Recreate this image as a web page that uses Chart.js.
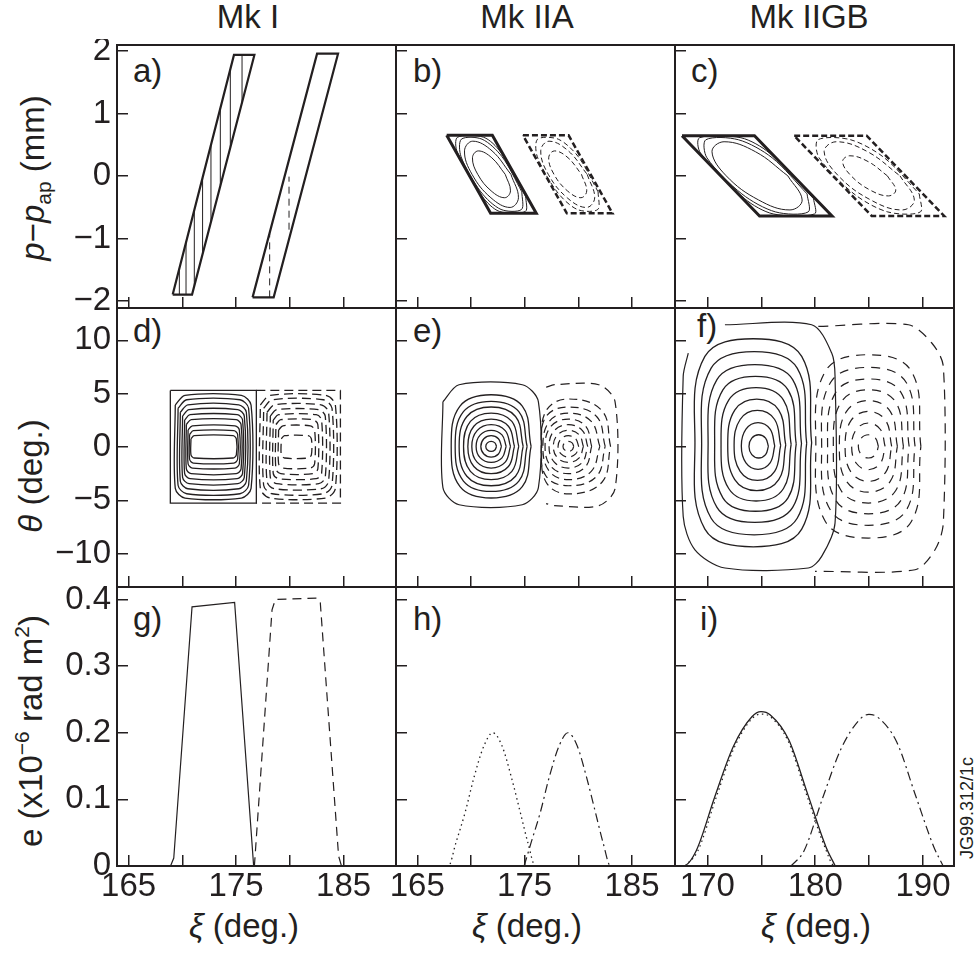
<!DOCTYPE html>
<html><head><meta charset="utf-8">
<script src="https://cdn.jsdelivr.net/npm/chart.js@4.4.1/dist/chart.umd.min.js"></script>
<style>
html,body{margin:0;padding:0;background:#fff;}
body{width:979px;height:954px;position:relative;overflow:hidden;font-family:"Liberation Sans",Arial,sans-serif;color:#231f20;}
canvas{position:absolute;}
.t{position:absolute;font-size:33px;line-height:33px;white-space:nowrap;}
.c{transform:translateX(-50%);}
.r{transform:translate(-50%,-50%) rotate(-90deg);}
sub{font-size:21px;vertical-align:-7px;line-height:0;}
sup{font-size:21px;vertical-align:13px;line-height:0;}
</style></head><body>
<div class="t c" style="left:248px;top:0px">Mk I</div>
<div class="t c" style="left:527px;top:0px">Mk IIA</div>
<div class="t c" style="left:809px;top:0px">Mk IIGB</div>
<div class="t r" style="left:32px;top:178px"><i>p</i>−<i>p</i><sub>ap</sub> (mm)</div>
<div class="t r" style="left:30px;top:476px"><i>θ</i> (deg.)</div>
<div class="t r" style="left:30px;top:731px">e (x10<sup>−6</sup> rad m<sup>2</sup>)</div>
<div class="t c" style="left:244px;top:909px"><i>ξ</i> (deg.)</div>
<div class="t c" style="left:527px;top:909px"><i>ξ</i> (deg.)</div>
<div class="t c" style="left:816px;top:909px"><i>ξ</i> (deg.)</div>
<div class="t" style="left:133px;top:54px">a)</div>
<div class="t" style="left:413px;top:54px">b)</div>
<div class="t" style="left:691px;top:54px">c)</div>
<div class="t" style="left:133px;top:314px">d)</div>
<div class="t" style="left:413px;top:314px">e)</div>
<div class="t" style="left:697px;top:309px">f)</div>
<div class="t" style="left:133px;top:602px">g)</div>
<div class="t" style="left:413px;top:602px">h)</div>
<div class="t" style="left:700px;top:602px">i)</div>
<div class="t r" style="left:967px;top:808px;font-size:18px;line-height:18px">JG99.312/1c</div>
<script>
// ---------- axes ----------
const XI_RANGE_MK1 = [163.92, 189.87];
const XI_RANGE_MK2A = [163.02, 189.0];
const XI_RANGE_MK2GB = [167.0, 192.87];
const XI_TICKS_MK1 = [165, 170, 175, 180, 185];
const XI_TICKS_MK2A = [165, 170, 175, 180, 185];
const XI_TICKS_MK2GB = [170, 175, 180, 185, 190];
const XI_LABELS_MK1 = [165, 175, 185];
const XI_LABELS_MK2A = [165, 175, 185];
const XI_LABELS_MK2GB = [170, 180, 190];
const P_RANGE = [-2.115, 2.099];
const P_TICKS = [-2, -1, 0, 1, 2];
const THETA_RANGE = [-13.12, 13.03];
const THETA_TICKS = [-10, -5, 0, 5, 10];
const E_RANGE = [0, 0.4187];
const E_TICKS = [0, 0.1, 0.2, 0.3, 0.4];

// ---------- a) Mk I phase space ----------
const A_LEFT_OUTLINE = [[169.1,-1.9],[170.9,-1.9],[176.7,1.94],[174.8,1.94]];
const A_LEFT_HATCH = [[169.72,-1.9,-1.48],[170.34,-1.9,-1.06],[171.11,-1.76,-0.55],[171.88,-1.25,-0.03],[172.66,-0.73,0.5],[173.53,-0.15,1.08],[174.46,0.46,1.71],[175.55,1.18,1.94]];
const A_RIGHT_OUTLINE = [[176.53,-1.945],[178.49,-1.945],[184.48,1.96],[182.53,1.96]];
const A_RIGHT_HATCH = [[178.12,-1.945,-0.92],[179.92,-0.86,-0.01]];

// ---------- b) Mk IIA phase space ----------
const B_SOLID_OUTER = [[167.74,0.652],[171.99,0.652],[176.08,-0.598],[171.83,-0.598]];
const B_SOLID_RING1 = [[175.10,-0.329],[175.07,-0.567],[172.64,-0.567],[171.06,-0.329],[168.72,0.383],[168.75,0.621],[171.18,0.621],[172.76,0.383]];
const B_SOLID_RING2 = [[174.74,-0.254],[174.71,-0.536],[172.80,-0.536],[170.92,-0.254],[169.08,0.308],[169.11,0.590],[171.03,0.590],[172.90,0.308]];
const B_SOLID_ELL1 = [[173.72,0.027],[174.42,-0.349],[173.65,-0.504],[171.86,-0.349],[170.10,0.027],[169.40,0.403],[170.17,0.558],[171.96,0.403]];
const B_SOLID_ELL2 = [[173.19,0.027],[173.68,-0.238],[173.14,-0.348],[171.88,-0.238],[170.63,0.027],[170.14,0.292],[170.68,0.402],[171.94,0.292]];
const B_DASH_OUTER = [[174.84,0.652],[179.09,0.652],[183.18,-0.598],[178.93,-0.598]];
const B_DASH_RING = [[181.84,-0.254],[181.81,-0.536],[179.90,-0.536],[178.02,-0.254],[176.18,0.308],[176.21,0.590],[178.13,0.590],[180.00,0.308]];
const B_DASH_ELL1 = [[180.82,0.027],[181.52,-0.349],[180.75,-0.504],[178.96,-0.349],[177.20,0.027],[176.50,0.403],[177.27,0.558],[179.06,0.403]];
const B_DASH_ELL2 = [[180.29,0.027],[180.78,-0.238],[180.24,-0.348],[178.98,-0.238],[177.73,0.027],[177.24,0.292],[177.78,0.402],[179.04,0.292]];

// ---------- c) Mk IIGB phase space ----------
const C_SOLID_OUTER = [[167.65,0.645],[174.37,0.645],[181.56,-0.64],[174.84,-0.64]];
const C_SOLID_RING1 = [[179.85,-0.364],[179.94,-0.608],[176.11,-0.608],[173.46,-0.364],[169.36,0.369],[169.28,0.613],[173.11,0.613],[175.75,0.369]];
const C_SOLID_RING2 = [[179.25,-0.287],[179.35,-0.576],[176.33,-0.576],[173.20,-0.287],[169.96,0.292],[169.86,0.581],[172.88,0.581],[176.01,0.292]];
const C_SOLID_ELL = [[177.46,0.003],[178.79,-0.384],[177.66,-0.544],[174.75,-0.384],[171.75,0.003],[170.43,0.389],[171.55,0.549],[174.46,0.389]];
const C_DASH_OUTER = [[178.05,0.645],[184.77,0.645],[191.96,-0.64],[185.24,-0.64]];
const C_DASH_RING = [[189.65,-0.287],[189.75,-0.576],[186.73,-0.576],[183.60,-0.287],[180.36,0.292],[180.26,0.581],[183.28,0.581],[186.41,0.292]];
const C_DASH_ELL1 = [[187.86,0.003],[189.19,-0.384],[188.06,-0.544],[185.15,-0.384],[182.15,0.003],[180.83,0.389],[181.95,0.549],[184.86,0.389]];
const C_DASH_ELL2 = [[186.69,0.003],[187.47,-0.225],[186.80,-0.319],[185.09,-0.225],[183.33,0.003],[182.54,0.230],[183.21,0.324],[184.92,0.230]];

// ---------- d) Mk I real space ----------
const D_SOLID_OUTER = [[168.88,5.3],[176.88,5.3],[176.88,-5.25],[168.88,-5.25]];
const D_SOLID_RINGS = [
  [[169.34,3.94],[170.24,4.84],[175.49,4.84],[176.39,3.94],[176.39,-3.88],[175.49,-4.78],[170.24,-4.78],[169.34,-3.88]],
  [[169.6,3.63],[170.4,4.43],[175.36,4.43],[176.16,3.63],[176.16,-3.58],[175.36,-4.38],[170.4,-4.38],[169.6,-3.58]],
  [[169.81,3.26],[170.51,3.96],[175.25,3.96],[175.95,3.26],[175.95,-3.21],[175.25,-3.91],[170.51,-3.91],[169.81,-3.21]],
  [[170.02,2.9],[170.62,3.5],[175.16,3.5],[175.76,2.9],[175.76,-2.84],[175.16,-3.44],[170.62,-3.44],[170.02,-2.84]],
  [[170.21,2.53],[170.71,3.03],[175.1,3.03],[175.6,2.53],[175.6,-2.47],[175.1,-2.97],[170.71,-2.97],[170.21,-2.47]],
  [[170.37,2.11],[170.82,2.56],[175.01,2.56],[175.46,2.11],[175.46,-2.05],[175.01,-2.5],[170.82,-2.5],[170.37,-2.05]],
  [[170.53,1.59],[170.93,1.99],[174.9,1.99],[175.3,1.59],[175.3,-1.57],[174.9,-1.97],[170.93,-1.97],[170.53,-1.57]],
  [[170.67,1.18],[171.02,1.53],[174.79,1.53],[175.14,1.18],[175.14,-1.15],[174.79,-1.5],[171.02,-1.5],[170.67,-1.15]],
  [[170.8,0.76],[171.1,1.06],[174.72,1.06],[175.02,0.76],[175.02,-0.73],[174.72,-1.03],[171.1,-1.03],[170.8,-0.73]]
];
const D_DASH_OUTER = [[176.88,5.3],[184.7,5.3],[184.7,-5.25],[176.88,-5.25]];
const D_DASH_RINGS = [
  [[177.25,3.94],[178.15,4.84],[183.33,4.84],[184.23,3.94],[184.23,-3.88],[183.33,-4.78],[178.15,-4.78],[177.25,-3.88]],
  [[177.56,3.63],[178.36,4.43],[183.12,4.43],[183.92,3.63],[183.92,-3.58],[183.12,-4.38],[178.36,-4.38],[177.56,-3.58]],
  [[177.87,3.26],[178.57,3.96],[182.9,3.96],[183.6,3.26],[183.6,-3.21],[182.9,-3.91],[178.57,-3.91],[177.87,-3.21]],
  [[178.18,2.9],[178.78,3.5],[182.69,3.5],[183.29,2.9],[183.29,-2.84],[182.69,-3.44],[178.78,-3.44],[178.18,-2.84]],
  [[178.45,2.53],[178.95,3.03],[182.45,3.03],[182.95,2.53],[182.95,-2.47],[182.45,-2.97],[178.95,-2.97],[178.45,-2.47]],
  [[178.7,2.11],[179.15,2.56],[182.15,2.56],[182.6,2.11],[182.6,-2.05],[182.15,-2.5],[179.15,-2.5],[178.7,-2.05]],
  [[178.95,1.59],[179.35,1.99],[181.9,1.99],[182.3,1.59],[182.3,-1.57],[181.9,-1.97],[179.35,-1.97],[178.95,-1.57]],
  [[179.2,0.76],[179.5,1.06],[181.7,1.06],[182.0,0.76],[182.0,-0.73],[181.7,-1.03],[179.5,-1.03],[179.2,-0.73]]
];

// ---------- e) Mk IIA real space ----------
const E_SOLID_OUTER = [[167.39,4.24],[168.89,5.84],[174.78,5.84],[176.28,4.24],[176.28,-3.81],[174.78,-5.41],[168.89,-5.41],[167.39,-3.81]];
const E_SOLID_RINGS = [
  [[172.38,0.06],[172.23,0.39],[171.88,0.53],[171.53,0.39],[171.38,0.06],[171.53,-0.27],[171.88,-0.41],[172.23,-0.27]],
  [[172.84,0.06],[172.56,0.77],[171.88,1.06],[171.2,0.77],[170.92,0.06],[171.2,-0.65],[171.88,-0.94],[172.56,-0.65]],
  [[173.28,0.06],[172.89,1.14],[171.88,1.56],[170.87,1.14],[170.48,0.06],[170.87,-1.02],[171.88,-1.44],[172.89,-1.02]],
  [[173.68,0.06],[173.19,1.54],[171.88,2.09],[170.57,1.54],[170.08,0.06],[170.57,-1.42],[171.88,-1.97],[173.19,-1.42]],
  [[174.05,0.06],[173.49,1.95],[171.88,2.62],[170.27,1.95],[169.71,0.06],[170.27,-1.83],[171.88,-2.5],[173.49,-1.83]],
  [[174.45,0.06],[173.81,2.4],[171.88,3.18],[169.95,2.4],[169.31,0.06],[169.95,-2.28],[171.88,-3.06],[173.81,-2.28]],
  [[174.86,0.06],[174.15,2.86],[171.88,3.75],[169.62,2.86],[168.9,0.06],[169.62,-2.74],[171.88,-3.63],[174.15,-2.74]],
  [[175.23,0.06],[174.46,3.31],[171.88,4.28],[169.3,3.31],[168.53,0.06],[169.3,-3.19],[171.88,-4.16],[174.46,-3.19]],
  [[175.6,0.06],[174.78,3.84],[171.88,4.9],[168.98,3.84],[168.16,0.06],[168.98,-3.72],[171.88,-4.78],[174.78,-3.72]]
];
const E_DASH_OUTER = [[177.0,5.6],[177.78,5.84],[181.9,5.84],[183.42,4.24],[183.42,-3.9],[181.9,-5.5],[177.78,-5.5],[177.0,-5.3]];
const E_DASH_RINGS = [
  [[179.57,0.06],[179.42,0.39],[179.07,0.53],[178.72,0.39],[178.57,0.06],[178.72,-0.27],[179.07,-0.41],[179.42,-0.27]],
  [[180.03,0.06],[179.75,0.77],[179.07,1.06],[178.39,0.77],[178.11,0.06],[178.39,-0.65],[179.07,-0.94],[179.75,-0.65]],
  [[180.47,0.06],[180.08,1.14],[179.07,1.56],[178.06,1.14],[177.67,0.06],[178.06,-1.02],[179.07,-1.44],[180.08,-1.02]],
  [[180.87,0.06],[180.38,1.54],[179.07,2.09],[177.76,1.54],[177.27,0.06],[177.76,-1.42],[179.07,-1.97],[180.38,-1.42]],
  [[181.24,0.06],[180.68,1.95],[179.07,2.62],[177.46,1.95],[176.9,0.06],[177.46,-1.83],[179.07,-2.5],[180.68,-1.83]],
  [[182.0,0.06],[181.2,2.4],[179.07,3.18],[177.3,2.4],[176.7,0.06],[177.3,-2.28],[179.07,-3.06],[181.2,-2.28]],
  [[182.5,0.06],[181.7,2.86],[179.07,3.75],[177.0,2.86],[176.55,0.06],[177.0,-2.74],[179.07,-3.63],[181.7,-2.74]],
  [[183.0,0.06],[182.2,3.4],[179.07,4.5],[177.0,3.4],[176.6,0.06],[177.0,-3.3],[179.07,-4.4],[182.2,-3.3]]
];

// ---------- f) Mk IIGB real space ----------
const F_SOLID_OUTER = [[171.63,11.46],[179.67,11.46],[181.53,8.81],[181.84,6.62],[181.84,-7.12],[180.6,-10.25],[179.36,-11.34],[171.63,-11.34],[168.85,-9.63],[167.76,-6.5],[167.76,6.62],[168.23,8.81]];
const F_SOLID_RINGS = [
  [[175.66,0.06],[175.40,0.83],[174.76,1.15],[174.12,0.83],[173.86,0.06],[174.12,-0.71],[174.76,-1.03],[175.40,-0.71]],
  [[176.25,0.1],[175.82,1.68],[174.70,2.29],[173.58,1.68],[173.15,0.1],[173.58,-1.48],[174.70,-2.09],[175.82,-1.48]],
  [[176.80,0.15],[176.24,2.58],[174.64,3.43],[173.04,2.58],[172.48,0.15],[173.04,-2.28],[174.64,-3.13],[176.24,-2.28]],
  [[177.27,0.2],[176.62,3.46],[174.58,4.49],[172.54,3.46],[171.89,0.2],[172.54,-3.06],[174.58,-4.09],[176.62,-3.06]],
  [[177.77,0.25],[177.06,4.39],[174.52,5.56],[171.98,4.39],[171.27,0.25],[171.98,-3.89],[174.52,-5.06],[177.06,-3.89]],
  [[178.24,0.3],[177.48,5.36],[174.46,6.62],[171.44,5.36],[170.68,0.3],[171.44,-4.76],[174.46,-6.02],[177.48,-4.76]],
  [[178.73,0.33],[177.91,6.32],[174.40,7.73],[170.89,6.32],[170.07,0.33],[170.89,-5.66],[174.40,-7.07],[177.91,-5.66]],
  [[179.21,0.36],[178.33,7.40],[174.34,8.95],[170.35,7.40],[169.47,0.36],[170.35,-6.68],[174.34,-8.23],[178.33,-6.68]],
  [[179.67,0.4],[178.75,8.49],[174.26,10.15],[169.77,8.49],[168.85,0.4],[169.77,-7.69],[174.26,-9.35],[178.75,-7.69]]
];
const F_DASH_OUTER = [[180.29,11.3],[188.64,11.46],[190.81,9.75],[191.88,7.55],[191.88,-7.12],[191.11,-9.63],[189.26,-11.5],[179.98,-11.66]];
const F_DASH_RINGS = [
  [[185.86,0.06],[185.59,0.83],[184.93,1.15],[184.27,0.83],[184.0,0.06],[184.27,-0.71],[184.93,-1.03],[185.59,-0.71]],
  [[186.48,0.06],[186.05,1.64],[184.93,2.25],[183.81,1.64],[183.38,0.06],[183.81,-1.52],[184.93,-2.13],[186.05,-1.52]],
  [[187.09,0.06],[186.53,2.49],[184.93,3.34],[183.33,2.49],[182.77,0.06],[183.33,-2.37],[184.93,-3.22],[186.53,-2.37]],
  [[187.62,0.06],[186.97,3.32],[184.93,4.35],[182.89,3.32],[182.24,0.06],[182.89,-3.2],[184.93,-4.23],[186.97,-3.2]],
  [[188.18,0.06],[187.47,4.2],[184.93,5.37],[182.4,4.2],[181.68,0.06],[182.4,-4.08],[184.93,-5.25],[187.47,-4.08]],
  [[188.71,0.06],[187.95,5.12],[184.93,6.38],[181.91,5.12],[181.15,0.06],[181.91,-5.0],[184.93,-6.26],[187.95,-5.0]],
  [[189.26,0.06],[188.44,6.05],[184.93,7.46],[181.42,6.05],[180.6,0.06],[181.42,-5.93],[184.93,-7.34],[188.44,-5.93]],
  [[189.8,0.06],[188.92,7.1],[184.93,8.65],[180.94,7.1],[180.06,0.06],[180.94,-6.98],[184.93,-8.53],[188.92,-6.98]]
];

// ---------- g, h, i) emittance vs xi ----------
const G_SOLID = [[165,0],[168.9,0],[169.2,0.012],[170.9,0.389],[174.86,0.3955],[176.63,0],[176.9,0]];
const G_DASHED = [[169.7,0],[176.7,0],[178.34,0.3845],[178.65,0.4],[182.53,0.402],[182.83,0.395],[184.53,0.015],[184.8,0],[186.2,0]];
const H_DOTTED = [[163.5,0],[167.9,0],[168.6,0.035],[169.45,0.08],[170.3,0.134],[171.2,0.18],[172.03,0.2],[172.9,0.18],[173.75,0.134],[174.6,0.08],[175.3,0.035],[176.0,0],[188.5,0]];
const H_DASHDOT = [[174.95,0],[175.6,0.035],[176.45,0.08],[177.3,0.134],[178.2,0.18],[179.03,0.2],[179.9,0.18],[180.75,0.134],[181.6,0.08],[182.3,0.035],[183.0,0],[188.5,0]];
const I_SOLID = [[167.0,0],[167.76,0],[168.97,0.023],[170.69,0.104],[172.4,0.179],[174.13,0.224],[174.98,0.2316],[175.84,0.2266],[177.56,0.189],[179.28,0.109],[180.99,0.029],[181.86,0]];
const I_DOTTED = [[167.9,0],[169.1,0.022],[170.8,0.102],[172.45,0.176],[174.13,0.221],[174.98,0.228],[175.84,0.224],[177.5,0.187],[179.2,0.107],[180.9,0.028],[181.8,0],[192.8,0]];
const I_DASHDOT = [[177.76,0],[178.97,0.023],[180.69,0.102],[182.4,0.176],[184.13,0.22],[184.98,0.2276],[185.84,0.2227],[187.56,0.186],[189.28,0.107],[190.99,0.029],[191.86,0]];

// ---------- drawing ----------
const INK = '#231f20';
const FONT = "'Liberation Sans', Arial, sans-serif";
const COL_EDGES = [117, 396, 675, 954];
const ROW_EDGES = [45, 308, 587, 866];

function seg(points, o) {
  return Object.assign({
    data: points.map(p => ({x: p[0], y: p[1]})),
    showLine: true, pointRadius: 0, pointHoverRadius: 0,
    borderColor: INK, borderWidth: 1, tension: 0, fill: false
  }, o || {});
}
function ring(points, o) { return seg(points.concat([points[0]]), o); }
function vlines(list, o) { return list.map(v => seg([[v[0], v[1]], [v[0], v[2]]], o)); }

const BOLD = {borderWidth: 2.2};
const THIN = {borderWidth: 1};
const fmtSigned = v => (v < 0 ? '\u2212' + Math.abs(v) : String(v));
const fmtE = v => (v === 0 ? '0' : v.toFixed(1));

const XSPEC = [
  {range: XI_RANGE_MK1, ticks: XI_TICKS_MK1, labels: XI_LABELS_MK1},
  {range: XI_RANGE_MK2A, ticks: XI_TICKS_MK2A, labels: XI_LABELS_MK2A},
  {range: XI_RANGE_MK2GB, ticks: XI_TICKS_MK2GB, labels: XI_LABELS_MK2GB}
];
const YSPEC = [
  {range: P_RANGE, ticks: P_TICKS, fmt: fmtSigned},
  {range: THETA_RANGE, ticks: THETA_TICKS, fmt: fmtSigned},
  {range: E_RANGE, ticks: E_TICKS, fmt: fmtE}
];

const framePlugin = {
  id: 'frame',
  afterDraw(chart) {
    const {ctx, chartArea: a} = chart;
    ctx.save();
    ctx.strokeStyle = INK; ctx.lineWidth = 2;
    ctx.strokeRect(a.left, a.top, a.right - a.left, a.bottom - a.top);
    ctx.restore();
  }
};

function zeroPad(s) { s.paddingLeft = 0; s.paddingRight = 0; s.paddingTop = 0; s.paddingBottom = 0; }

function makeChart(col, row, datasets) {
  const L = COL_EDGES[col], R = COL_EDGES[col + 1], T = ROW_EDGES[row], B = ROW_EDGES[row + 1];
  const padL = col === 0 ? 0 : 6, yW = col === 0 ? L : 0;
  const xH = row === 2 ? 60 : 0, padB = row === 2 ? 0 : 6;
  const left = L - padL - yW, top = T - 6;
  const w = R + 6 - left, h = B + xH + padB - top;
  const cv = document.createElement('canvas');
  cv.width = w; cv.height = h;
  cv.style.left = left + 'px'; cv.style.top = top + 'px';
  cv.style.width = w + 'px'; cv.style.height = h + 'px';
  document.body.appendChild(cv);
  const xs = XSPEC[col], ys = YSPEC[row];
  const gridOpt = {display: true, drawOnChartArea: false, drawTicks: true, tickLength: -11, color: INK, lineWidth: 1.5};
  return new Chart(cv, {
    type: 'scatter',
    data: {datasets},
    plugins: [framePlugin],
    options: {
      responsive: false, animation: false, devicePixelRatio: 1, events: [],
      layout: {padding: {left: padL, top: 6, right: 6, bottom: padB}},
      plugins: {legend: {display: false}, tooltip: {enabled: false}},
      scales: {
        x: {
          type: 'linear', position: 'bottom', min: xs.range[0], max: xs.range[1],
          afterBuildTicks: s => { s.ticks = xs.ticks.map(v => ({value: v})); },
          afterFit: s => { s.height = xH; zeroPad(s); },
          border: {display: false}, grid: gridOpt,
          ticks: {display: row === 2, padding: 12, color: INK, font: {family: FONT, size: 33},
                  maxRotation: 0, minRotation: 0, autoSkip: false,
                  callback: v => (xs.labels.includes(v) ? String(v) : '')}
        },
        y: {
          type: 'linear', position: 'left', min: ys.range[0], max: ys.range[1],
          afterBuildTicks: s => { s.ticks = ys.ticks.map(v => ({value: v})); },
          afterFit: s => { s.width = yW; zeroPad(s); },
          border: {display: false}, grid: gridOpt,
          ticks: {display: col === 0, padding: 17, color: INK, font: {family: FONT, size: 33},
                  autoSkip: false, callback: v => ys.fmt(v)}
        }
      }
    }
  });
}

const DASH_B = {borderWidth: 1, borderDash: [5, 3]};

// a)
makeChart(0, 0, [
  ring(A_LEFT_OUTLINE, BOLD), ...vlines(A_LEFT_HATCH, THIN),
  ring(A_RIGHT_OUTLINE, BOLD), ...vlines(A_RIGHT_HATCH, {borderWidth: 1, borderDash: [7, 5]})
]);
// b)
makeChart(1, 0, [
  ring(B_SOLID_OUTER, {borderWidth: 3}),
  ring(B_SOLID_RING1, {borderWidth: 1, tension: 0.3}),
  ring(B_SOLID_RING2, {borderWidth: 1, tension: 0.3}),
  ring(B_SOLID_ELL1, {borderWidth: 1, tension: 0.4}),
  ring(B_SOLID_ELL2, {borderWidth: 1, tension: 0.4}),
  ring(B_DASH_OUTER, {borderWidth: 2.5, borderDash: [6, 3]}),
  ring(B_DASH_RING, Object.assign({tension: 0.3}, DASH_B)),
  ring(B_DASH_ELL1, Object.assign({tension: 0.4}, DASH_B)),
  ring(B_DASH_ELL2, Object.assign({tension: 0.4}, DASH_B))
]);
// c)
makeChart(2, 0, [
  ring(C_SOLID_OUTER, {borderWidth: 3}),
  ring(C_SOLID_RING1, {borderWidth: 1, tension: 0.3}),
  ring(C_SOLID_RING2, {borderWidth: 1, tension: 0.3}),
  ring(C_SOLID_ELL, {borderWidth: 1, tension: 0.4}),
  ring(C_DASH_OUTER, {borderWidth: 2.5, borderDash: [6, 3]}),
  ring(C_DASH_RING, Object.assign({tension: 0.3}, DASH_B)),
  ring(C_DASH_ELL1, Object.assign({tension: 0.4}, DASH_B)),
  ring(C_DASH_ELL2, Object.assign({tension: 0.4}, DASH_B))
]);
// d)
makeChart(0, 1, [
  ring(D_SOLID_OUTER, {borderWidth: 1.3}),
  ...D_SOLID_RINGS.map(r => ring(r, {borderWidth: 1.3, tension: 0.3})),
  seg(D_DASH_OUTER, {borderWidth: 1.3, borderDash: [9, 5]}),
  ...D_DASH_RINGS.map(r => ring(r, {borderWidth: 1.3, tension: 0.3, borderDash: [9, 5]}))
]);
// e)
makeChart(1, 1, [
  ring(E_SOLID_OUTER, {borderWidth: 1.2, tension: 0.3}),
  ...E_SOLID_RINGS.map(r => ring(r, {borderWidth: 1.3, tension: 0.4})),
  seg(E_DASH_OUTER, {borderWidth: 1.2, tension: 0.3, borderDash: [9, 6]}),
  ...E_DASH_RINGS.map(r => ring(r, {borderWidth: 1.2, tension: 0.4, borderDash: [8, 5]}))
]);
// f)
makeChart(2, 1, [
  seg(F_SOLID_OUTER, {borderWidth: 1.2, tension: 0.3}),
  ...F_SOLID_RINGS.map(r => ring(r, {borderWidth: 1.3, tension: 0.4})),
  seg(F_DASH_OUTER, {borderWidth: 1.2, tension: 0.3, borderDash: [10, 7]}),
  ...F_DASH_RINGS.map(r => ring(r, {borderWidth: 1.2, tension: 0.4, borderDash: [9, 7]}))
]);
// g)
makeChart(0, 2, [
  seg(G_SOLID, {borderWidth: 1.2}),
  seg(G_DASHED, {borderWidth: 1.2, borderDash: [9, 6]})
]);
// h)
makeChart(1, 2, [
  seg(H_DOTTED, {borderWidth: 1.3, cubicInterpolationMode: 'monotone', borderDash: [1.5, 3.5]}),
  seg(H_DASHDOT, {borderWidth: 1.2, cubicInterpolationMode: 'monotone', borderDash: [9, 4, 2, 4]})
]);
// i)
makeChart(2, 2, [
  seg(I_SOLID, {borderWidth: 1.3, cubicInterpolationMode: 'monotone'}),
  seg(I_DOTTED, {borderWidth: 1.2, cubicInterpolationMode: 'monotone', borderDash: [1.5, 3.5]}),
  seg(I_DASHDOT, {borderWidth: 1.2, cubicInterpolationMode: 'monotone', borderDash: [9, 4, 2, 4]})
]);
</script>
</body></html>
